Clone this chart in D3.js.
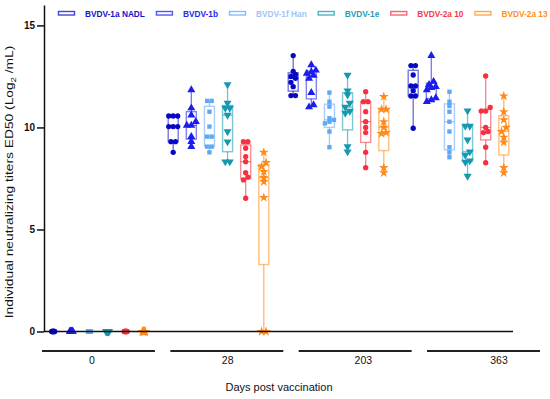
<!DOCTYPE html>
<html>
<head>
<meta charset="utf-8">
<script src="https://cdn.jsdelivr.net/npm/d3@7"></script>
<style>
  body { margin: 0; background: #fff; }
  svg { font-family: "Liberation Sans", Arial, sans-serif; }
</style>
</head>
<body>
<svg id="chart" width="550" height="399"></svg>
<script>
// days post vaccination
var groups = ["0", "28", "203", "363"];
var strains = ["BVDV-1a NADL", "BVDV-1b", "BVDV-1f Han", "BVDV-1e", "BVDV-2a 10", "BVDV-2a 13"];
var colors = ["#0808c4", "#1c1cf0", "#5ea8f5", "#1698b0", "#f5303f", "#ff8a17"];
var textColors = ["#1414c8", "#2626ee", "#9cc6f6", "#22a0b8", "#f53a48", "#ff8f22"];
var shapes = ["circle", "triangle", "square", "triangleDown", "circle", "star"];

// log2 titers, one array per strain
var day0 = [
  [0, 0, 0, 0, 0, 0, 0, 0, 0],
  [0, 0, 0, 0, 0, 0, 0, 0, 0],
  [0, 0, 0, 0, 0, 0, 0, 0, 0],
  [0, 0, 0, 0, 0, 0, 0, 0, 0],
  [0, 0, 0, 0, 0, 0, 0, 0, 0],
  [0, 0, 0, 0, 0, 0, 0, 0, 0]
];
var day28 = [
  [8.78, 9.3, 9.3, 10.04, 10.04, 10.04, 10.56, 10.56, 10.56],
  [9.06, 9.3, 9.55, 10.1, 10.1, 10.28, 10.6, 10.95, 11.84],
  [8.78, 9.06, 9.06, 9.55, 9.55, 10.04, 10.77, 11.3, 11.3],
  [8.32, 8.32, 9.3, 9.8, 10.6, 10.95, 10.95, 11.2, 12.1],
  [6.53, 7.43, 7.56, 7.78, 8.32, 8.57, 8.98, 9.3, 9.3],
  [0, 0, 6.56, 7.34, 7.54, 7.83, 8.08, 8.28, 8.78]
];
var day203 = [
  [11.56, 11.56, 12.0, 12.21, 12.41, 12.5, 12.6, 12.75, 13.52],
  [11.0, 11.1, 11.7, 12.4, 12.55, 12.65, 12.72, 12.8, 13.06],
  [9.03, 9.8, 10.2, 10.28, 10.37, 10.45, 11.02, 11.26, 11.71],
  [8.81, 9.06, 10.7, 10.8, 11.0, 11.2, 11.6, 11.8, 12.57],
  [8.03, 8.78, 9.75, 10.0, 10.28, 10.77, 11.26, 11.26, 11.75],
  [7.78, 8.03, 9.7, 9.75, 10.0, 10.28, 10.89, 10.89, 11.51]
];
var day363 = [
  [9.96, 11.54, 11.54, 11.8, 12.03, 12.03, 12.57, 13.03, 13.03],
  [11.26, 11.35, 11.45, 11.84, 11.95, 12.0, 12.1, 12.25, 13.52],
  [8.54, 8.78, 9.03, 9.8, 10.28, 10.77, 11.05, 11.26, 11.75],
  [7.62, 8.3, 8.37, 8.65, 8.81, 9.39, 10.07, 10.07, 10.82],
  [8.27, 9.03, 9.75, 9.8, 10.0, 10.8, 10.8, 10.98, 12.52],
  [7.78, 8.03, 9.27, 9.52, 9.8, 10.0, 10.37, 10.77, 11.54]
];
var yTicks = [0, 5, 10, 15];

var values = { "0": day0, "28": day28, "203": day203, "363": day363 };

var svg = d3.select("#chart");

var y = d3.scaleLinear().domain([0, 16]).range([331.5, 5]);
var xGroup = d3.scaleBand().domain(groups).range([38.5, 518.5]);
var xStrain = d3.scalePoint().domain(strains).range([-45.3, 45.3]);
var xBar = d3.scaleBand().domain(groups).range([42, 540]).paddingInner(0.12);
var xLabel = d3.scalePoint().domain(groups).range([92, 499]);

// prism style quantile, position (n+1)p
function quant(s, p) {
  var n = s.length, pos = (n + 1) * p, lo = Math.floor(pos);
  if (lo < 1) return s[0];
  if (lo >= n) return s[n - 1];
  return s[lo - 1] + (pos - lo) * (s[lo] - s[lo - 1]);
}

function symbolFor(shape) {
  if (shape == "circle") return d3.symbol().type(d3.symbolCircle).size(22)();
  if (shape == "square") return d3.symbol().type(d3.symbolSquare).size(19)();
  if (shape == "star") return d3.symbol().type(d3.symbolStar).size(30)();
  return d3.symbol().type(d3.symbolTriangle).size(28)();
}

// spread close points sideways a bit
function swarm(vals) {
  var s = vals.slice().sort(d3.ascending), out = [], i = 0;
  while (i < s.length) {
    var j = i;
    while (j + 1 < s.length && s[j + 1] - s[i] < 0.2) j++;
    var k = j - i + 1;
    var gap = k <= 3 ? 4.5 : 3 / (k - 1);
    for (var m = i; m <= j; m++) out.push({ v: s[m], dx: (m - i - (k - 1) / 2) * gap });
    i = j + 1;
  }
  return out;
}

var boxW = 10;

groups.forEach(function(g) {
  strains.forEach(function(st, si) {
    var vals = values[g][si];
    var s = vals.slice().sort(d3.ascending);
    var cx = xGroup(g) + xGroup.bandwidth() / 2 + xStrain(st);
    var q1 = quant(s, 0.25), med = quant(s, 0.5), q3 = quant(s, 0.75);
    var col = colors[si];
    var gb = svg.append("g");

    if (s[s.length - 1] > 0) {
      gb.append("line")
        .attr("x1", cx).attr("x2", cx)
        .attr("y1", y(s[0])).attr("y2", y(q1))
        .attr("stroke", col).attr("stroke-opacity", 0.6).attr("stroke-width", 1.3);
      gb.append("line")
        .attr("x1", cx).attr("x2", cx)
        .attr("y1", y(q3)).attr("y2", y(s[s.length - 1]))
        .attr("stroke", col).attr("stroke-opacity", 0.6).attr("stroke-width", 1.3);
      gb.append("rect")
        .attr("x", cx - boxW / 2).attr("width", boxW)
        .attr("y", y(q3)).attr("height", y(q1) - y(q3))
        .attr("fill", "none")
        .attr("stroke", col).attr("stroke-opacity", 0.55).attr("stroke-width", 1.4);
      gb.append("line")
        .attr("x1", cx - boxW / 2).attr("x2", cx + boxW / 2)
        .attr("y1", y(med)).attr("y2", y(med))
        .attr("stroke", col).attr("stroke-opacity", 0.6).attr("stroke-width", 1.3);
    }

    gb.selectAll("path.pt")
      .data(swarm(vals))
      .enter().append("path")
      .attr("class", "pt")
      .attr("d", symbolFor(shapes[si]))
      .attr("transform", function(d) {
        return "translate(" + (cx + d.dx) + "," + y(d.v) + ")" + (shapes[si] == "triangleDown" ? " rotate(180)" : "");
      })
      .attr("fill", col);
  });
});

// y axis
var yAxis = svg.append("g")
  .attr("transform", "translate(44,0)")
  .call(d3.axisLeft(y).tickValues(yTicks).tickSize(7).tickSizeOuter(0).tickPadding(2));
yAxis.select(".domain").attr("stroke", "#111").attr("stroke-width", 1.5);
yAxis.selectAll(".tick line").attr("stroke", "#111").attr("stroke-width", 1.5);
yAxis.selectAll(".tick text")
  .attr("font-size", 10).attr("font-weight", "bold").attr("fill", "#111")
  .attr("font-family", "Liberation Sans, Arial, sans-serif");

// baseline at zero
svg.append("line")
  .attr("x1", 44).attr("x2", 513)
  .attr("y1", y(0)).attr("y2", y(0))
  .attr("stroke", "#111").attr("stroke-width", 1.5);

// group bars and labels
svg.selectAll("line.gbar")
  .data(groups)
  .enter().append("line")
  .attr("class", "gbar")
  .attr("x1", function(d) { return xBar(d); })
  .attr("x2", function(d) { return xBar(d) + xBar.bandwidth(); })
  .attr("y1", 351).attr("y2", 351)
  .attr("stroke", "#222").attr("stroke-width", 1.8);

svg.selectAll("text.glabel")
  .data(groups)
  .enter().append("text")
  .attr("class", "glabel")
  .attr("x", function(d) { return xLabel(d); })
  .attr("y", 364)
  .attr("text-anchor", "middle")
  .attr("font-size", 10.5)
  .attr("fill", "#111")
  .text(function(d) { return d; });

svg.append("text")
  .attr("x", 279).attr("y", 391)
  .attr("text-anchor", "middle")
  .attr("font-size", 11)
  .attr("fill", "#111")
  .text("Days post vaccination");

var yl = svg.append("text")
  .attr("transform", "translate(13,182) rotate(-90) scale(1.2,1)")
  .attr("text-anchor", "middle")
  .attr("font-size", 11.5)
  .attr("fill", "#111");
yl.append("tspan").text("Individual neutralizing titers ED50 (Log");
yl.append("tspan").attr("font-size", 8).attr("dy", 3).text("2");
yl.append("tspan").attr("dy", -3).text(" /mL)");

// legend
var lx = 58;
strains.forEach(function(st, si) {
  var lg = svg.append("g").attr("transform", "translate(" + lx + ",0)");
  lg.append("rect")
    .attr("x", 0.5).attr("y", 11.5).attr("width", 16).attr("height", 3.5)
    .attr("fill", "none")
    .attr("stroke", colors[si]).attr("stroke-opacity", 0.75).attr("stroke-width", 1.4);
  var t = lg.append("text")
    .attr("x", 27).attr("y", 16.5)
    .attr("font-size", 8.3).attr("font-weight", "bold")
    .attr("fill", textColors[si])
    .text(st);
  lx += 27 + t.node().getComputedTextLength() + 11;
});
</script>
</body>
</html>
